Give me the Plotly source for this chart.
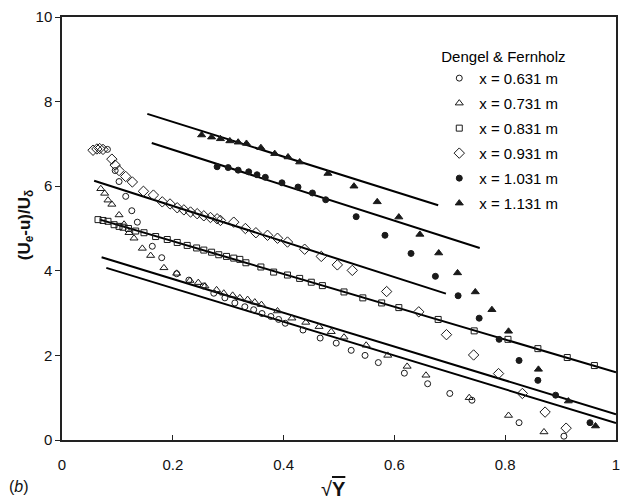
import plotly.graph_objects as go

# Velocity-defect profiles, Dengel & Fernholz, plotted against sqrt(Y)
labels = ["x = 0.631 m", "x = 0.731 m", "x = 0.831 m",
          "x = 0.931 m", "x = 1.031 m", "x = 1.131 m"]

x_631 = [0.082, 0.096, 0.103, 0.115, 0.126, 0.136, 0.163, 0.180, 0.207, 0.229,
         0.255, 0.274, 0.294, 0.312, 0.330, 0.346, 0.361, 0.377, 0.391, 0.403,
         0.435, 0.466, 0.495, 0.522, 0.547, 0.571, 0.618, 0.660, 0.700, 0.740,
         0.825, 0.906]
y_631 = [6.87, 6.37, 6.11, 5.76, 5.42, 5.15, 4.58, 4.31, 3.93, 3.78,
         3.64, 3.47, 3.36, 3.24, 3.15, 3.08, 2.99, 2.92, 2.85, 2.76,
         2.60, 2.41, 2.29, 2.12, 2.00, 1.83, 1.58, 1.33, 1.10, 0.94,
         0.41, 0.09]

x_731 = [0.070, 0.077, 0.083, 0.090, 0.103, 0.112, 0.121, 0.130, 0.145, 0.160,
         0.184, 0.207, 0.231, 0.246, 0.258, 0.279, 0.292, 0.308, 0.321, 0.335,
         0.348, 0.360, 0.389, 0.415, 0.440, 0.464, 0.486, 0.509, 0.549, 0.588,
         0.623, 0.657, 0.735, 0.806, 0.870]
y_731 = [5.94, 5.83, 5.67, 5.57, 5.32, 5.10, 4.90, 4.77, 4.53, 4.36,
         4.07, 3.94, 3.77, 3.72, 3.64, 3.55, 3.47, 3.42, 3.36, 3.32,
         3.26, 3.20, 3.05, 2.88, 2.78, 2.68, 2.56, 2.43, 2.24, 2.00,
         1.74, 1.53, 1.00, 0.58, 0.19]

x_831 = [0.065, 0.074, 0.083, 0.094, 0.103, 0.110, 0.120, 0.133, 0.148, 0.169,
         0.190, 0.208, 0.226, 0.243, 0.256, 0.270, 0.283, 0.297, 0.310, 0.321,
         0.332, 0.359, 0.382, 0.407, 0.429, 0.450, 0.470, 0.509, 0.543, 0.577,
         0.608, 0.679, 0.744, 0.805, 0.859, 0.912, 0.961]
y_831 = [5.21, 5.19, 5.17, 5.09, 5.05, 5.03, 5.00, 4.94, 4.90, 4.81,
         4.74, 4.67, 4.60, 4.54, 4.49, 4.44, 4.38, 4.34, 4.30, 4.27,
         4.19, 4.09, 3.97, 3.90, 3.82, 3.73, 3.65, 3.50, 3.36, 3.24,
         3.13, 2.85, 2.58, 2.38, 2.16, 1.95, 1.76]

x_931 = [0.056, 0.063, 0.068, 0.074, 0.090, 0.096, 0.103, 0.115, 0.127, 0.147,
         0.165, 0.181, 0.195, 0.208, 0.220, 0.232, 0.244, 0.256, 0.268, 0.280,
         0.286, 0.310, 0.331, 0.350, 0.371, 0.389, 0.407, 0.438, 0.468, 0.497,
         0.524, 0.586, 0.644, 0.694, 0.743, 0.788, 0.831, 0.872, 0.910]
y_931 = [6.85, 6.88, 6.89, 6.87, 6.64, 6.50, 6.37, 6.23, 6.10, 5.88,
         5.79, 5.63, 5.58, 5.49, 5.44, 5.39, 5.35, 5.30, 5.26, 5.23,
         5.19, 5.15, 5.00, 4.90, 4.84, 4.77, 4.68, 4.51, 4.34, 4.14,
         4.01, 3.51, 3.03, 2.49, 2.01, 1.57, 1.10, 0.66, 0.28]

x_1031 = [0.280, 0.300, 0.318, 0.337, 0.352, 0.367, 0.397, 0.426, 0.452, 0.476,
          0.531, 0.583, 0.630, 0.674, 0.715, 0.753, 0.789, 0.825, 0.859, 0.891,
          0.953]
y_1031 = [6.46, 6.44, 6.38, 6.34, 6.27, 6.21, 6.08, 5.98, 5.84, 5.68,
          5.28, 4.84, 4.41, 3.87, 3.41, 2.88, 2.38, 1.88, 1.41, 1.06,
          0.41]

x_1131 = [0.252, 0.270, 0.286, 0.303, 0.318, 0.333, 0.359, 0.384, 0.408, 0.429,
          0.480, 0.527, 0.569, 0.608, 0.646, 0.680, 0.714, 0.746, 0.776, 0.806,
          0.860, 0.914, 0.963]
y_1131 = [7.21, 7.16, 7.12, 7.07, 7.04, 7.01, 6.91, 6.77, 6.69, 6.57,
          6.30, 6.00, 5.63, 5.27, 4.86, 4.42, 3.95, 3.50, 3.08, 2.57,
          1.67, 0.92, 0.33]

# Straight-line fits of the log-law region, one per station (start / end points)
fit_x0 = [0.080, 0.0715, 0.0685, 0.058, 0.162, 0.154]
fit_y0 = [4.07, 4.32, 5.21, 6.13, 7.02, 7.71]
fit_x1 = [1.000, 1.000, 1.000, 0.693, 0.754, 0.679]
fit_y1 = [0.40, 0.61, 1.60, 3.46, 4.54, 5.55]

xs = [x_631, x_731, x_831, x_931, x_1031, x_1131]
ys = [y_631, y_731, y_831, y_931, y_1031, y_1131]
symbols = ["circle-open", "triangle-up-open", "square-open",
           "diamond-open", "circle", "triangle-up"]
sizes = [6, 7, 6, 8, 6, 7]

FONT = "Arial, 'Liberation Sans', sans-serif"
INK = "#1a1a1a"

fig = go.Figure()

for i in range(6):
    fig.add_trace(go.Scatter(
        x=[fit_x0[i], fit_x1[i]], y=[fit_y0[i], fit_y1[i]],
        mode="lines", line=dict(color="black", width=2),
        showlegend=False, hoverinfo="skip"))

for i in range(6):
    fig.add_trace(go.Scatter(
        x=xs[i], y=ys[i], mode="markers", name=labels[i],
        legendgroup=labels[i],
        marker=dict(symbol=symbols[i], size=sizes[i], color=INK,
                    line=dict(color=INK, width=1))))

fig.update_layout(
    width=630, height=504,
    margin=dict(l=62, r=14, t=8, b=64),
    paper_bgcolor="white", plot_bgcolor="white",
    font=dict(family=FONT, size=15, color="black"),
    showlegend=True,
    legend=dict(
        title=dict(text="Dengel & Fernholz", font=dict(size=15)),
        x=0.681, y=0.94, xanchor="left", yanchor="top",
        bgcolor="rgba(0,0,0,0)", tracegroupgap=2.5,
        font=dict(size=15), itemwidth=30),
    xaxis=dict(range=[0, 1], tickvals=[0, 0.2, 0.4, 0.6, 0.8, 1],
               ticktext=["0", "0.2", "0.4", "0.6", "0.8", "1"],
               showline=True, mirror=True, linecolor="#222", linewidth=1.5,
               ticks="inside", ticklen=5, tickcolor="#222",
               ticklabelstandoff=10,
               showgrid=False, zeroline=False,
               tickfont=dict(size=15, color="#111")),
    yaxis=dict(range=[0, 10], tickvals=[0, 2, 4, 6, 8, 10],
               showline=True, mirror=True, linecolor="#222", linewidth=1.5,
               ticks="outside", ticklen=5, tickcolor="#222",
               showgrid=False, zeroline=False,
               tickfont=dict(size=15, color="#111")),
)

fig.add_annotation(
    text="<b>(U<sub>e</sub>-u)/U<sub>δ</sub></b>", textangle=-90,
    xref="paper", yref="paper", x=-0.065, y=0.51,
    xanchor="center", yanchor="middle", showarrow=False,
    font=dict(size=17, color="#111"))

fig.add_annotation(
    text="√<b><span style='text-decoration:overline'>Y</span></b>",
    xref="paper", yref="paper", x=0.49, y=-0.116,
    xanchor="center", yanchor="middle", showarrow=False,
    font=dict(size=20, color="#111"))

fig.add_annotation(
    text="(<i>b</i>)", xref="paper", yref="paper", x=-0.1, y=-0.11,
    xanchor="left", yanchor="middle", showarrow=False,
    font=dict(size=16, color="#111"))

fig.write_html("out.html")
